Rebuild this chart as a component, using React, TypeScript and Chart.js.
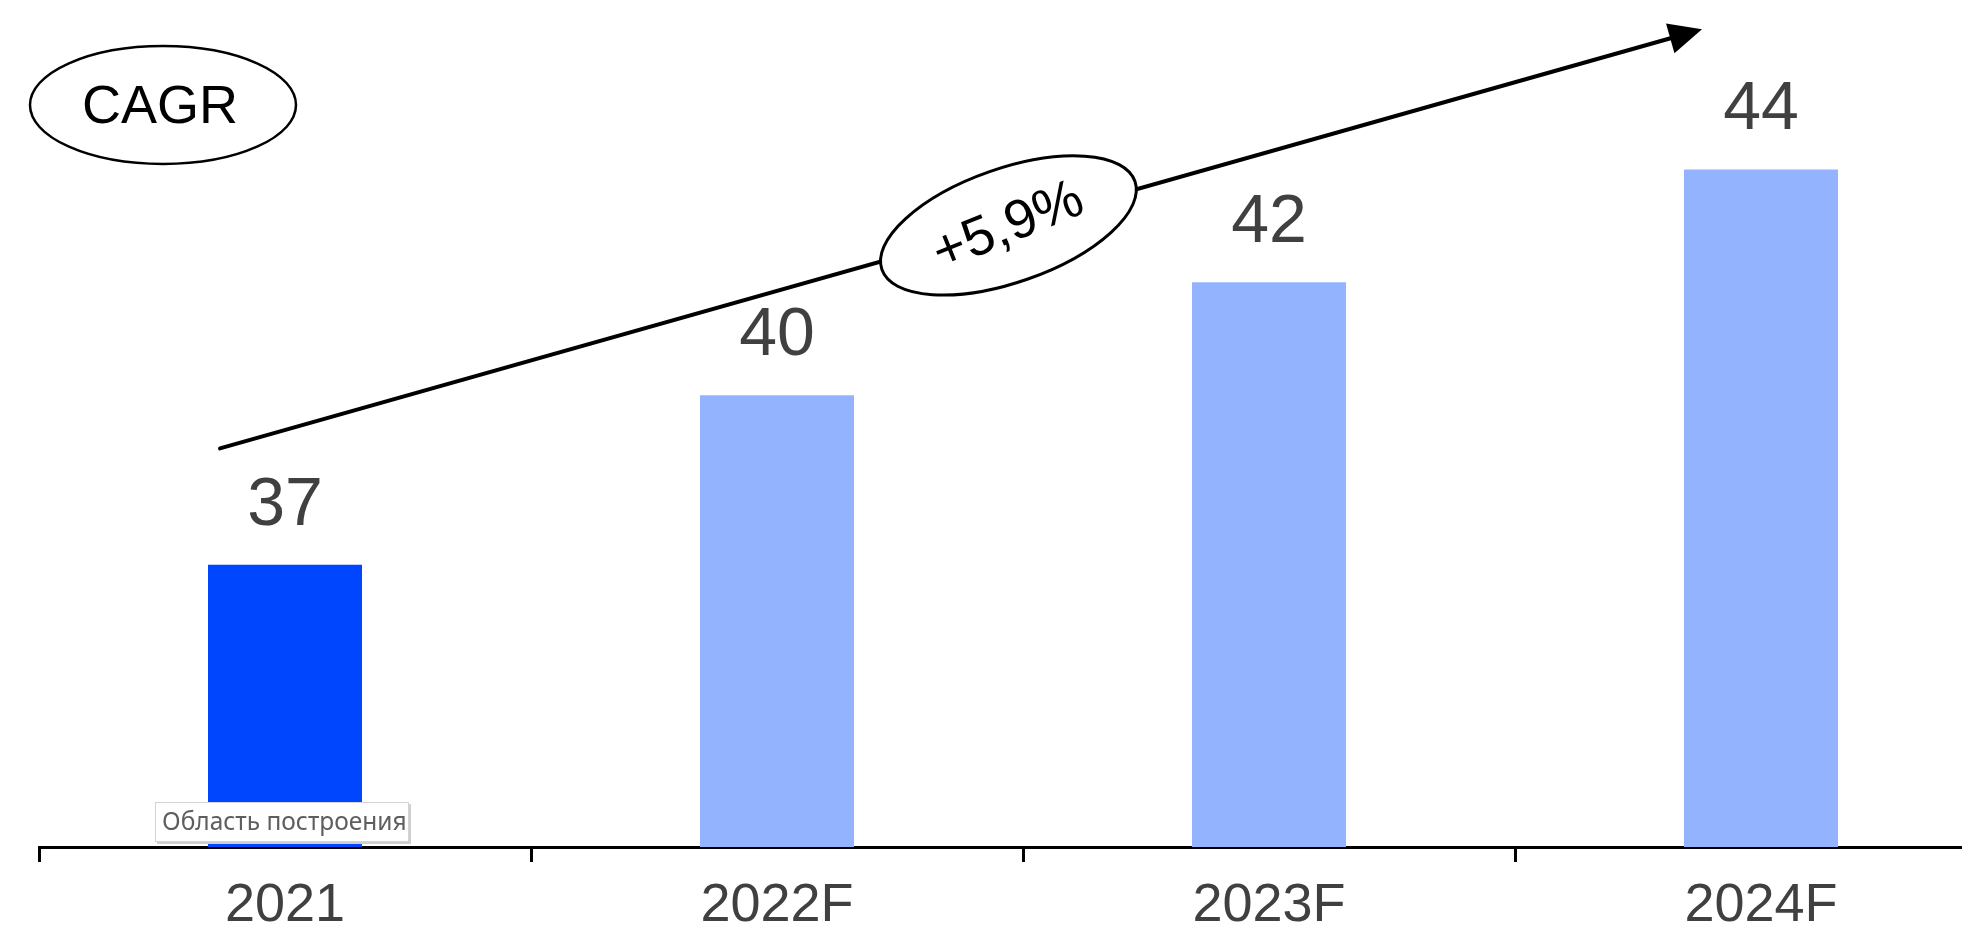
import React, { useEffect, useRef } from "react";
import { Chart, registerables } from "chart.js";

Chart.register(...registerables);

// ---- data ----
const categories = ["2021", "2022F", "2023F", "2024F"];
const values = [37, 40, 42, 44];
const barColors = ["#0046FF", "#94B3FF", "#94B3FF", "#94B3FF"];
const yMin = 32;
const yMax = 47;
const cagrTitle = "CAGR";
const cagrValue = "+5,9%";
const hoverNote = "Область построения";
// arrow ends in data space: [category index, pixel shift from category centre, value]
const arrowStart = [0, -65, 39.06];
const arrowEnd = [3, -59, 46.48];

const NUM_FONT = "'Liberation Sans', Arial, Helvetica, sans-serif";

const overlayPlugin = {
  id: "overlay",
  afterDatasetsDraw(chart: any) {
    const ctx: CanvasRenderingContext2D = chart.ctx;
    const xs = chart.scales.x;
    const ys = chart.scales.y;
    const meta = chart.getDatasetMeta(0);
    ctx.save();

    // value labels
    ctx.font = `68px ${NUM_FONT}`;
    ctx.fillStyle = "#404040";
    ctx.textAlign = "center";
    ctx.textBaseline = "alphabetic";
    meta.data.forEach((bar: any, i: number) => {
      ctx.fillText(String(values[i]), bar.x, bar.y - 40);
    });

    // CAGR arrow
    const x0 = xs.getPixelForValue(arrowStart[0]) + arrowStart[1];
    const y0 = ys.getPixelForValue(arrowStart[2]);
    const x1 = xs.getPixelForValue(arrowEnd[0]) + arrowEnd[1];
    const y1 = ys.getPixelForValue(arrowEnd[2]);
    const ang = Math.atan2(y1 - y0, x1 - x0);
    const headLen = 33;
    const headHalf = 15.5;
    ctx.strokeStyle = "#000";
    ctx.lineWidth = 4;
    ctx.lineCap = "round";
    ctx.beginPath();
    ctx.moveTo(x0, y0);
    ctx.lineTo(x1 - Math.cos(ang) * (headLen - 4), y1 - Math.sin(ang) * (headLen - 4));
    ctx.stroke();
    ctx.fillStyle = "#000";
    ctx.beginPath();
    ctx.moveTo(x1, y1);
    const bx = x1 - Math.cos(ang) * headLen;
    const by = y1 - Math.sin(ang) * headLen;
    ctx.lineTo(bx + Math.sin(ang) * headHalf, by - Math.cos(ang) * headHalf);
    ctx.lineTo(bx - Math.sin(ang) * headHalf, by + Math.cos(ang) * headHalf);
    ctx.closePath();
    ctx.fill();

    // ellipse on the arrow with growth value
    const t = 0.532;
    const ex = x0 + (x1 - x0) * t;
    const ey = y0 + (y1 - y0) * t;
    const tilt = ang - 0.06;
    ctx.beginPath();
    ctx.ellipse(ex, ey, 134, 57, tilt, 0, Math.PI * 2);
    ctx.fillStyle = "#fff";
    ctx.fill();
    ctx.lineWidth = 3;
    ctx.strokeStyle = "#000";
    ctx.stroke();
    ctx.save();
    ctx.translate(ex, ey + 2);
    ctx.rotate(tilt - 0.05);
    ctx.font = `55px ${NUM_FONT}`;
    ctx.fillStyle = "#000";
    ctx.textAlign = "center";
    ctx.textBaseline = "middle";
    ctx.fillText(cagrValue, 0, 0);
    ctx.restore();

    // CAGR badge
    ctx.beginPath();
    ctx.ellipse(163, 105, 133, 59, 0, 0, Math.PI * 2);
    ctx.fillStyle = "#fff";
    ctx.fill();
    ctx.lineWidth = 2.5;
    ctx.strokeStyle = "#000";
    ctx.stroke();
    ctx.font = `54px ${NUM_FONT}`;
    ctx.fillStyle = "#000";
    ctx.textAlign = "center";
    ctx.textBaseline = "middle";
    ctx.fillText(cagrTitle, 160, 108);

    ctx.restore();
  },
  afterDraw(chart: any) {
    const ctx: CanvasRenderingContext2D = chart.ctx;
    const xs = chart.scales.x;
    const cx = xs.getPixelForValue(0);
    ctx.save();
    const bx = cx - 130;
    const by = 802;
    const bw = 254;
    const bh = 40;
    ctx.fillStyle = "#cfcfcf";
    ctx.fillRect(bx + 2, by + 2, bw, bh);
    ctx.fillStyle = "#ffffff";
    ctx.fillRect(bx, by, bw, bh);
    ctx.strokeStyle = "#d4d4d4";
    ctx.lineWidth = 1;
    ctx.strokeRect(bx + 0.5, by + 0.5, bw - 1, bh - 1);
    ctx.font = "24.5px 'Noto Sans', 'Open Sans', sans-serif";
    ctx.fillStyle = "#5e5e5e";
    ctx.textAlign = "left";
    ctx.textBaseline = "middle";
    ctx.fillText(hoverNote, bx + 7, by + bh / 2 + 1);
    ctx.restore();
  },
};

export default function App() {
  const ref = useRef<HTMLCanvasElement | null>(null);

  useEffect(() => {
    if (!ref.current) return;
    const chart = new Chart(ref.current, {
      type: "bar",
      data: {
        labels: categories,
        datasets: [
          {
            data: values,
            backgroundColor: barColors,
            borderWidth: 0,
            barPercentage: 0.313,
            categoryPercentage: 1,
          },
        ],
      },
      options: {
        animation: false,
        responsive: false,
        devicePixelRatio: 1,
        layout: { padding: { left: 39, right: 0, top: 0, bottom: 0 } },
        plugins: {
          legend: { display: false },
          tooltip: { enabled: false },
        },
        events: [],
        scales: {
          x: {
            type: "category",
            offset: true,
            z: 1,
            grid: {
              display: true,
              offset: true,
              drawOnChartArea: false,
              drawTicks: true,
              tickLength: 15,
              color: "#000",
              lineWidth: 3,
            },
            border: { display: true, color: "#000", width: 3 },
            ticks: {
              color: "#404040",
              font: { family: NUM_FONT, size: 54 },
              padding: 12,
              maxRotation: 0,
              autoSkip: false,
            },
            afterFit: (s: any) => {
              s.height = 84;
            },
          },
          y: { display: false, min: yMin, max: yMax },
        },
      },
      plugins: [overlayPlugin],
    } as any);
    return () => chart.destroy();
  }, []);

  return (
    <div
      style={{
        position: "fixed",
        left: 0,
        top: 0,
        width: 1962,
        height: 931,
        overflow: "hidden",
        background: "#fff",
      }}
    >
      <canvas ref={ref} width={2007} height={931} style={{ display: "block" }} />
    </div>
  );
}
